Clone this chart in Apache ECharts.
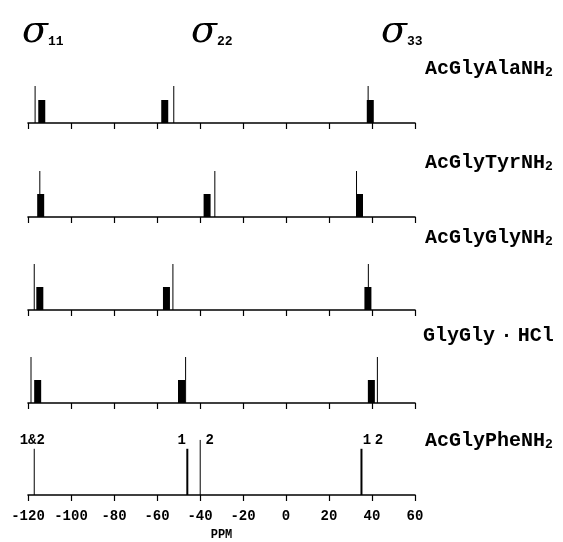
<!DOCTYPE html>
<html>
<head>
<meta charset="utf-8">
<script src="https://cdn.jsdelivr.net/npm/echarts@6/dist/echarts.min.js"></script>
<style>
  html, body { margin: 0; padding: 0; background: #fff; }
  #chart { width: 563px; height: 542px; }
</style>
</head>
<body>
<div id="chart"></div>
<script>
// compounds, top panel to bottom panel (rich-text markup for subscript / narrow spaces)
const compounds = ['AcGlyAlaNH{s|2}', 'AcGlyTyrNH{s|2}', 'AcGlyGlyNH{s|2}', 'GlyGly{d| }·{d| }HCl', 'AcGlyPheNH{s|2}'];

// tall thin lines (ppm): sigma11, sigma22, sigma33
const lineShifts = [
  [-116.7, -52.2, 38.2],
  [-114.5, -33.1, 32.8],
  [-117.1, -52.6, 38.3],
  [-118.6, -46.7, 42.5]
];
const lineHeights = [37, 46, 46, 46];
// short thick bars (ppm)
const barShifts = [
  [-113.6, -56.4, 39.2],
  [-114.1, -36.7, 34.2],
  [-114.5, -55.6, 38.1],
  [-115.5, -48.6, 39.7]
];
const barHeight = 23;

// AcGlyPheNH2 single lines
const pheThinShifts = [-117.1, -39.9];
const pheThinHeights = [47, 56];
const pheThickShifts = [-45.9, 35.1];
const pheThickHeights = [47, 47];
const pheLabels = ['1&2', '1', '2', '1', '2'];
const pheLabelShifts = [-118, -48.5, -35.5, 37.6, 43.2];

const sigmaLabels = ['11', '22', '33'];

const chart = echarts.init(document.getElementById('chart'));

const baselines = [123, 217, 310, 403, 496];
const panelLabelTops = [59, 153, 228, 326, 431];
const monoFont = '"Liberation Mono", "DejaVu Sans Mono", monospace';

function stick(lw) {
  return function (params, api) {
    const p0 = api.coord([api.value(0), 0]);
    const p1 = api.coord([api.value(0), api.value(1)]);
    return {
      type: 'line',
      shape: { x1: p0[0], y1: p0[1], x2: p1[0], y2: p1[1] },
      style: { stroke: '#000', lineWidth: lw }
    };
  };
}

function block(params, api) {
  const p0 = api.coord([api.value(0), 0]);
  const p1 = api.coord([api.value(0), api.value(1)]);
  return {
    type: 'rect',
    shape: { x: p0[0] - 3.5, y: p1[1], width: 7, height: p0[1] - p1[1] },
    style: { fill: '#000' }
  };
}

function labelText(params, api) {
  const p = api.coord([api.value(0), api.value(1)]);
  return {
    type: 'text',
    style: {
      text: pheLabels[params.dataIndex],
      x: p[0], y: p[1],
      align: 'center', verticalAlign: 'middle',
      font: 'bold 14px ' + monoFont,
      fill: '#000'
    }
  };
}

const grids = [], xAxes = [], yAxes = [], series = [];
baselines.forEach((b, i) => {
  grids.push({ left: 28, width: 387, top: b - 60, height: 60 });
  const last = i === baselines.length - 1;
  xAxes.push({
    type: 'value', gridIndex: i, min: -120, max: 60, interval: 20,
    axisLine: { lineStyle: { color: '#000', width: 1.6 } },
    axisTick: { length: 6, lineStyle: { color: '#000', width: 1.2 } },
    axisLabel: { show: last, color: '#000', fontFamily: monoFont, fontWeight: 'bold', fontSize: 14, margin: 14 },
    splitLine: { show: false },
    name: last ? 'PPM' : '',
    nameLocation: 'middle', nameGap: 34,
    nameTextStyle: { color: '#000', fontFamily: monoFont, fontWeight: 'bold', fontSize: 12 }
  });
  yAxes.push({ type: 'value', gridIndex: i, min: 0, max: 60, show: false });
});

lineShifts.forEach((arr, i) => {
  series.push({
    type: 'custom', xAxisIndex: i, yAxisIndex: i, renderItem: stick(1),
    data: arr.map(v => [v, lineHeights[i]]), silent: true
  });
  series.push({
    type: 'custom', xAxisIndex: i, yAxisIndex: i, renderItem: block,
    data: barShifts[i].map(v => [v, barHeight]), silent: true
  });
});
series.push({
  type: 'custom', xAxisIndex: 4, yAxisIndex: 4, renderItem: stick(1),
  data: pheThinShifts.map((v, k) => [v, pheThinHeights[k]]), silent: true
});
series.push({
  type: 'custom', xAxisIndex: 4, yAxisIndex: 4, renderItem: stick(2),
  data: pheThickShifts.map((v, k) => [v, pheThickHeights[k]]), silent: true
});
series.push({
  type: 'custom', xAxisIndex: 4, yAxisIndex: 4, renderItem: labelText,
  data: pheLabelShifts.map(v => [v, 55]), silent: true
});

const graphics = [];
compounds.forEach((name, i) => {
  graphics.push({
    type: 'text', left: i === 3 ? 423 : 425, top: panelLabelTops[i],
    style: {
      text: name,
      font: 'bold 20px ' + monoFont,
      fill: '#000',
      rich: {
        s: { font: 'bold 13px ' + monoFont, fill: '#000', padding: [8, 0, 0, 0] },
        d: { font: 'bold 9px ' + monoFont, fill: '#000' }
      }
    }
  });
});
const sigmaX = [22, 191, 381];
sigmaLabels.forEach((s, i) => {
  graphics.push({
    type: 'text', left: sigmaX[i], top: 13,
    style: {
      text: 'σ{s|' + s + '}',
      font: 'italic 38px "DejaVu Serif", serif',
      fill: '#000',
      rich: { s: { font: 'bold 13px ' + monoFont, fill: '#000', padding: [20, 0, 0, 0] } }
    }
  });
});

chart.setOption({
  animation: false,
  backgroundColor: '#fff',
  grid: grids,
  xAxis: xAxes,
  yAxis: yAxes,
  series: series,
  graphic: graphics
});
</script>
</body>
</html>
